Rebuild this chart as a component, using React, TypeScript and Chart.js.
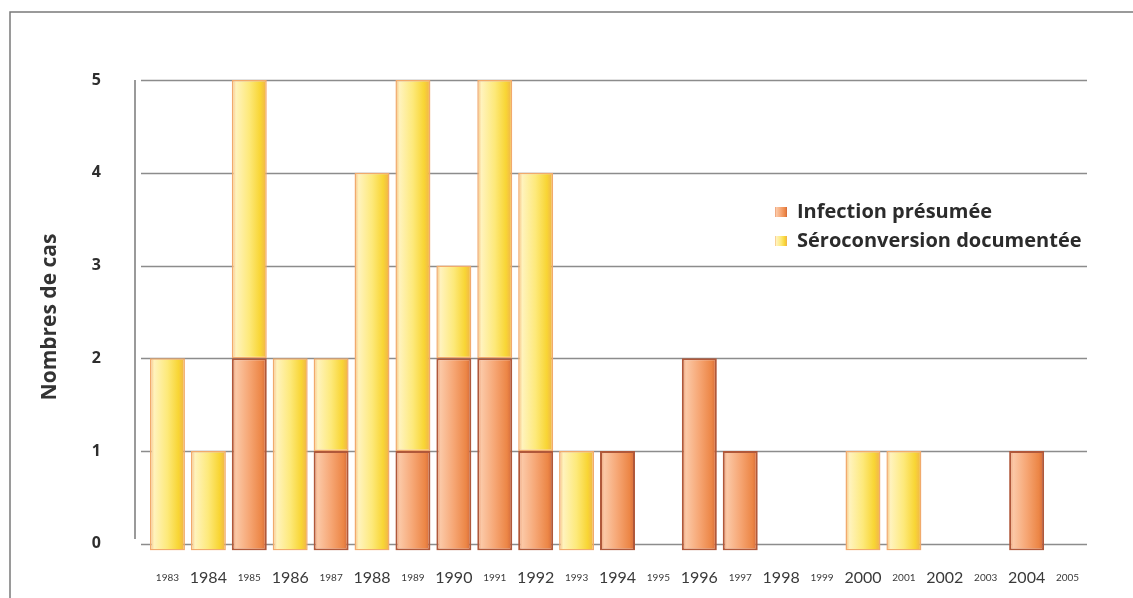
import React, { useEffect, useRef } from "react";
import { Chart, registerables } from "chart.js";

Chart.register(...registerables);

const years = [
  "1983", "1984", "1985", "1986", "1987", "1988", "1989", "1990", "1991", "1992",
  "1993", "1994", "1995", "1996", "1997", "1998", "1999", "2000", "2001", "2002",
  "2003", "2004", "2005",
];
const infectionPresumee = [0, 0, 2, 0, 1, 0, 1, 2, 2, 1, 0, 1, 0, 2, 1, 0, 0, 0, 0, 0, 0, 1, 0];
const seroconversionDocumentee = [2, 1, 3, 2, 1, 4, 4, 1, 3, 3, 1, 0, 0, 0, 0, 0, 0, 1, 1, 0, 0, 0, 0];
const yTicks = [0, 1, 2, 3, 4, 5];
const seriesLabels = ["Infection présumée", "Séroconversion documentée"];
const yTitle = "Nombres de cas";

const BASE = -0.07; // bars overhang slightly below the zero line
const BAR_PCT = 0.855;

type Stops = [number, string][];
const orangeStops: Stops = [
  [0, "#e99a70"],
  [0.12, "#fbc8a6"],
  [0.5, "#f6a674"],
  [0.85, "#ec8646"],
  [1, "#d2683a"],
];
const yellowStops: Stops = [
  [0, "#f5bd80"],
  [0.12, "#fff3bd"],
  [0.5, "#fde97a"],
  [0.82, "#f8d534"],
  [1, "#f0b14c"],
];

function gradientFor(c: any, stops: Stops) {
  const chart = c.chart;
  const xs = chart.scales && chart.scales.x;
  if (!xs || c.dataIndex == null || !chart.chartArea) return stops[2][1];
  const center = xs.getPixelForValue(c.dataIndex);
  const slot = (xs.right - xs.left) / years.length;
  const w = slot * BAR_PCT;
  const g = chart.ctx.createLinearGradient(center - w / 2, 0, center + w / 2, 0);
  stops.forEach(([o, col]) => g.addColorStop(o, col));
  return g;
}

const orangeData = years.map((_, i) =>
  infectionPresumee[i] > 0 ? [BASE, infectionPresumee[i]] : null
);
const yellowData = years.map((_, i) =>
  seroconversionDocumentee[i] > 0
    ? [infectionPresumee[i] > 0 ? infectionPresumee[i] : BASE, infectionPresumee[i] + seroconversionDocumentee[i]]
    : null
);

const decor = {
  id: "decor",
  beforeDraw(chart: any) {
    const ctx = chart.ctx;
    ctx.save();
    ctx.strokeStyle = "#7a7a7a";
    ctx.lineWidth = 1.5;
    ctx.beginPath();
    ctx.moveTo(10, chart.height);
    ctx.lineTo(10, 12);
    ctx.lineTo(chart.width, 12);
    ctx.stroke();
    ctx.restore();
  },
  beforeDatasetsDraw(chart: any) {
    const ctx = chart.ctx;
    const ys = chart.scales.y;
    const area = chart.chartArea;
    ctx.save();
    ctx.strokeStyle = "#8c8c8c";
    ctx.lineWidth = 1.5;
    yTicks.forEach((v) => {
      const y = Math.round(ys.getPixelForValue(v)) + 0.5;
      ctx.beginPath();
      ctx.moveTo(area.left - 6, y);
      ctx.lineTo(area.right - 1, y);
      ctx.stroke();
    });
    ctx.strokeStyle = "#9a9a9a";
    ctx.lineWidth = 2;
    ctx.beginPath();
    const ax = area.left - 12;
    ctx.moveTo(ax, ys.getPixelForValue(yTicks[yTicks.length - 1]));
    ctx.lineTo(ax, ys.getPixelForValue(0) - 5);
    ctx.stroke();
    ctx.restore();
  },
  afterDraw(chart: any) {
    const ctx = chart.ctx;
    ctx.save();
    // y title
    ctx.fillStyle = "#333333";
    ctx.font = "bold 21px 'Open Sans'";
    ctx.textAlign = "center";
    ctx.textBaseline = "middle";
    ctx.translate(50, 317);
    ctx.rotate(-Math.PI / 2);
    ctx.fillText(yTitle, 0, 0);
    ctx.restore();

    // legend
    const items = [
      { label: seriesLabels[0], stops: orangeStops, y: 212 },
      { label: seriesLabels[1], stops: yellowStops, y: 241 },
    ];
    ctx.save();
    items.forEach((it) => {
      const sx = 775, sw = 12, sh = 10;
      const g = ctx.createLinearGradient(sx, 0, sx + sw, 0);
      it.stops.forEach(([o, col]) => g.addColorStop(o, col));
      ctx.fillStyle = g;
      ctx.fillRect(sx, it.y - sh / 2, sw, sh);
      ctx.fillStyle = "#2b2b2b";
      ctx.font = "bold 20px 'Open Sans'";
      ctx.textAlign = "left";
      ctx.textBaseline = "middle";
      ctx.fillText(it.label, 797, it.y);
    });
    ctx.restore();
  },
};

export default function App() {
  const ref = useRef<HTMLCanvasElement | null>(null);
  useEffect(() => {
    if (!ref.current) return;
    const chart = new Chart(ref.current, {
      type: "bar",
      data: {
        labels: years,
        datasets: [
          {
            label: seriesLabels[0],
            data: orangeData as any,
            backgroundColor: (c: any) => gradientFor(c, orangeStops),
            borderColor: "#b0583a",
            borderWidth: 2,
            borderSkipped: false,
            grouped: false,
            barPercentage: BAR_PCT,
            categoryPercentage: 1,
          } as any,
          {
            label: seriesLabels[1],
            data: yellowData as any,
            backgroundColor: (c: any) => gradientFor(c, yellowStops),
            borderColor: "#f1aa6c",
            borderWidth: 1.5,
            borderSkipped: false,
            grouped: false,
            barPercentage: BAR_PCT,
            categoryPercentage: 1,
          } as any,
        ],
      },
      options: {
        responsive: false,
        animation: false,
        layout: { padding: { left: 0, right: 45, top: 80, bottom: 0 } },
        plugins: {
          legend: { display: false },
          tooltip: { enabled: false },
        },
        scales: {
          x: {
            offset: true,
            grid: { display: false },
            border: { display: false },
            afterFit: (s: any) => {
              s.height = 45.5;
            },
            ticks: {
              autoSkip: false,
              maxRotation: 0,
              padding: 19,
              crossAlign: "center",
              color: "#3a3a3a",
              font: (c: any) =>
                c.index % 2 === 1
                  ? { family: "Lato", size: 16, lineHeight: 1.2 }
                  : { family: "Lato", size: 10, lineHeight: 1.92 },
            },
          },
          y: {
            min: BASE,
            max: 5,
            grid: { display: false },
            border: { display: false },
            afterFit: (s: any) => {
              s.width = 147;
            },
            afterBuildTicks: (s: any) => {
              s.ticks = yTicks.map((v) => ({ value: v }));
            },
            ticks: {
              padding: 38,
              color: "#2e2e2e",
              font: { family: "Open Sans", size: 16, weight: "bold" },
            },
          },
        },
      },
      plugins: [decor],
    });
    return () => chart.destroy();
  }, []);
  return (
    <div style={{ position: "fixed", left: 0, top: 0, width: 1133, height: 598, background: "#fff" }}>
      <canvas ref={ref} width={1133} height={598} style={{ display: "block" }} />
    </div>
  );
}
